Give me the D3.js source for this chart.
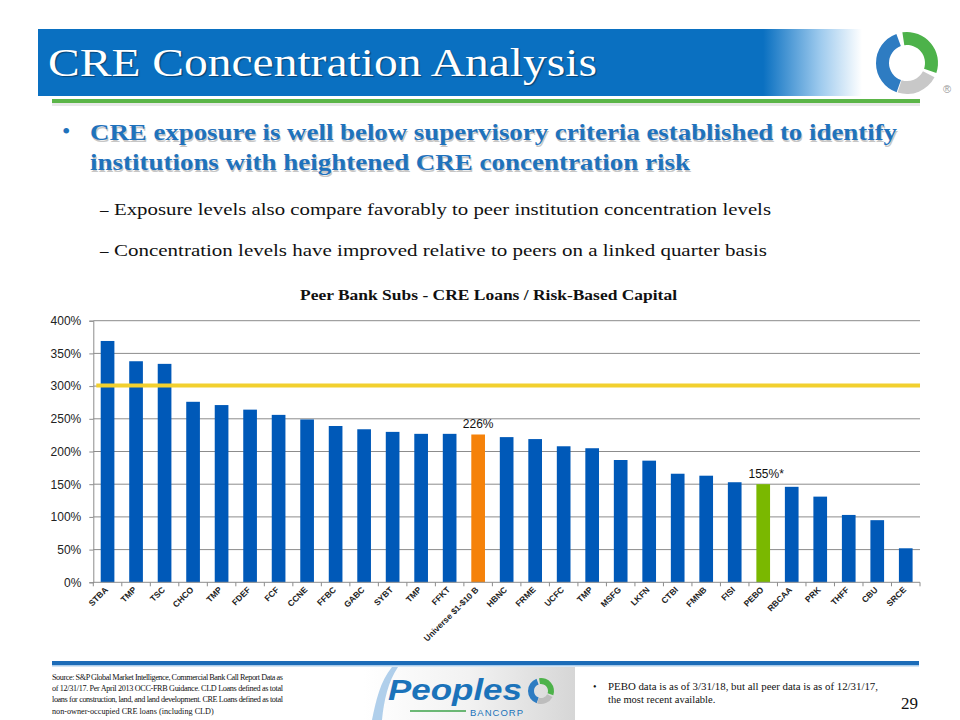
<!DOCTYPE html>
<html><head><meta charset="utf-8">
<script src="https://cdn.jsdelivr.net/npm/d3@7"></script>
<style>body{margin:0;background:#fff}svg{display:block}</style>
</head><body>
<script>
const categories = ["STBA","TMP","TSC","CHCO","TMP","FDEF","FCF","CCNE","FFBC","GABC","SYBT","TMP","FFKT","Universe $1-$10 B","HBNC","FRME","UCFC","TMP","MSFG","LKFN","CTBI","FMNB","FISI","PEBO","RBCAA","PRK","THFF","CBU","SRCE"];
const values = [369,338,334,276,271,264,256,249,239,234,230,227,227,226,222,219,208,205,187,186,166,163,153,150,146,131,103,95,52];
const barColors = {"Universe $1-$10 B":"#F5820A","PEBO":"#7AB800"};
const barLabels = [{cat:"Universe $1-$10 B", text:"226%"},{cat:"PEBO", text:"155%*"}];
const yTicks = [0,50,100,150,200,250,300,350,400];
const threshold = 301;

const W=960,H=720;
const svg=d3.select("body").append("svg").attr("width",W).attr("height",H);
const defs=svg.append("defs");
const g1=defs.append("linearGradient").attr("id","ban").attr("x1","0").attr("x2","1");
g1.append("stop").attr("offset","0").attr("stop-color","#0A70C1");
g1.append("stop").attr("offset","0.88").attr("stop-color","#0A70C1");
g1.append("stop").attr("offset","0.95").attr("stop-color","#9FCBEE");
g1.append("stop").attr("offset","1").attr("stop-color","#ffffff");
const g2=defs.append("linearGradient").attr("id","pbox").attr("x1","0").attr("x2","1");
g2.append("stop").attr("offset","0").attr("stop-color","#ffffff");
g2.append("stop").attr("offset","0.5").attr("stop-color","#f2f2f2");
g2.append("stop").attr("offset","1").attr("stop-color","#d6d6d6");

// header banner
svg.append("rect").attr("x",38).attr("y",29).attr("width",824).attr("height",67).attr("fill","url(#ban)");
svg.append("text").attr("x",48).attr("y",76).attr("fill","#fff")
  .attr("font-family","Liberation Serif, serif").attr("font-size",41)
  .attr("textLength",549).attr("lengthAdjust","spacingAndGlyphs")
  .style("text-shadow","1px 1px 1px rgba(0,0,0,0.4)")
  .text("CRE Concentration Analysis");
svg.append("rect").attr("x",52).attr("y",103).attr("width",868).attr("height",3).attr("fill","#d9d9d9").attr("opacity",0.6);
svg.append("rect").attr("x",52).attr("y",99).attr("width",868).attr("height",4).attr("fill","#5BB548");

// top logo
const lg=svg.append("g").attr("transform","translate(907,63)");
const arc=d3.arc();
lg.append("path").attr("d",arc({innerRadius:18,outerRadius:31,startAngle:-2.8,endAngle:-0.35})).attr("fill","#2E7CC2");
lg.append("path").attr("d",arc({innerRadius:18,outerRadius:31,startAngle:-0.15,endAngle:1.9})).attr("fill","#4DB24A");
lg.append("path").attr("d",arc({innerRadius:18,outerRadius:31,startAngle:2.05,endAngle:3.45})).attr("fill","#c8c8c8");
svg.append("text").attr("x",947).attr("y",93).attr("text-anchor","middle").attr("font-family","Liberation Sans, sans-serif").attr("font-size",11).attr("fill","#999").text("®");

// bullets
const serif="Liberation Serif, serif";
svg.append("text").attr("x",62).attr("y",139).attr("font-family",serif).attr("font-size",24).attr("fill","#1F72BC").text("•");
[[140,"CRE exposure is well below supervisory criteria established to identify",807],[170,"institutions with heightened CRE concentration risk",600]].forEach(([y,t,w])=>{
  svg.append("text").attr("x",91).attr("y",y+1.5).attr("font-family",serif).attr("font-size",23).attr("font-weight","bold")
    .attr("fill","#c6c6c6").attr("textLength",w).attr("lengthAdjust","spacingAndGlyphs").text(t);
  svg.append("text").attr("x",90).attr("y",y).attr("font-family",serif).attr("font-size",23).attr("font-weight","bold")
    .attr("fill","#1F72BC").attr("textLength",w).attr("lengthAdjust","spacingAndGlyphs").text(t);
});
[[215,"Exposure levels also compare favorably to peer institution concentration levels",657],[256,"Concentration levels have improved relative to peers on a linked quarter basis",653]].forEach(([y,t,w])=>{
  svg.append("text").attr("x",100).attr("y",y).attr("font-family",serif).attr("font-size",17).attr("fill","#111").text("–");
  svg.append("text").attr("x",114).attr("y",y).attr("font-family",serif).attr("font-size",17).attr("fill","#111")
    .attr("textLength",w).attr("lengthAdjust","spacingAndGlyphs").text(t);
});

// chart title
svg.append("text").attr("x",300).attr("y",300).attr("font-family",serif).attr("font-size",15.5).attr("font-weight","bold")
  .attr("fill","#111").attr("textLength",377).attr("lengthAdjust","spacingAndGlyphs")
  .text("Peer Bank Subs - CRE Loans / Risk-Based Capital");

// chart
const m={l:93.3,r:920,t:320.7,b:582.3};
const x=d3.scaleBand().domain(d3.range(categories.length)).range([m.l,m.r]).paddingInner(0.52).paddingOuter(0.26);
const y=d3.scaleLinear().domain([0,400]).range([m.b,m.t]);
const chart=svg.append("g");
chart.append("g").selectAll("line").data(yTicks.filter(d=>d>0)).join("line")
  .attr("x1",m.l).attr("x2",m.r).attr("y1",d=>y(d)).attr("y2",d=>y(d)).attr("stroke","#8c8c8c").attr("stroke-width",1);
const yAxis=chart.append("g").attr("transform",`translate(${m.l},0)`)
  .call(d3.axisLeft(y).tickValues(yTicks).tickFormat(d=>d+"%").tickSize(4).tickPadding(8));
yAxis.select(".domain").attr("stroke","#8c8c8c");
yAxis.selectAll(".tick line").attr("stroke","#8c8c8c");
yAxis.selectAll("text").attr("font-family","Liberation Sans, Arial, sans-serif").attr("font-size",12).attr("fill","#222");

chart.append("g").selectAll("rect").data(values).join("rect")
  .attr("x",(d,i)=>x(i)).attr("width",x.bandwidth())
  .attr("y",d=>y(d)).attr("height",d=>y(0)-y(d))
  .attr("fill",(d,i)=>barColors[categories[i]]||"#0059B8");

// threshold line
chart.append("line").attr("x1",m.l+3).attr("x2",m.r).attr("y1",y(threshold)).attr("y2",y(threshold))
  .attr("stroke","#F2D02E").attr("stroke-width",4);

// x axis
const step=x.step();
chart.append("line").attr("x1",m.l).attr("x2",m.r).attr("y1",m.b).attr("y2",m.b).attr("stroke","#8c8c8c");
chart.append("g").selectAll("line").data(d3.range(categories.length+1)).join("line")
  .attr("x1",i=>m.l+i*step).attr("x2",i=>m.l+i*step).attr("y1",m.b).attr("y2",m.b+4).attr("stroke","#8c8c8c");
chart.append("g").selectAll("text").data(categories).join("text")
  .attr("transform",(d,i)=>`translate(${x(i)+x.bandwidth()/2+1},${m.b+8}) rotate(-45)`)
  .attr("text-anchor","end").attr("font-family","Liberation Sans, Arial, sans-serif").attr("font-size",8.5)
  .attr("font-weight","bold").attr("fill","#222").text(d=>d);

// bar labels
barLabels.forEach(b=>{
  const i=categories.indexOf(b.cat);
  chart.append("text").attr("x",x(i)+x.bandwidth()/2+(b.text.endsWith("*")?3:0)).attr("y",y(values[i])-6)
    .attr("text-anchor","middle").attr("font-family","Liberation Sans, Arial, sans-serif").attr("font-size",12)
    .attr("fill","#111").text(b.text);
});

// footer
svg.append("rect").attr("x",52).attr("y",661).attr("width",867).attr("height",4).attr("fill","#1C6CB8");
svg.append("rect").attr("x",52).attr("y",665).attr("width",867).attr("height",1.5).attr("fill","#A9CBEA");
svg.append("rect").attr("x",363).attr("y",667).attr("width",212).attr("height",53).attr("fill","url(#pbox)");
svg.append("path").attr("d","M372,720 C376,700 380,682 392,667 L398,667 C388,682 384,700 382,720 Z").attr("fill","#9cc3e6").attr("opacity",0.8);
svg.append("text").attr("x",388).attr("y",700).attr("font-family","Liberation Sans, Arial, sans-serif").attr("font-size",30)
  .attr("font-weight","bold").attr("font-style","italic").attr("fill","#1B73BA")
  .attr("textLength",134).attr("lengthAdjust","spacingAndGlyphs").text("Peoples");
svg.append("line").attr("x1",410).attr("x2",466).attr("y1",711).attr("y2",711).attr("stroke","#3DA34A").attr("stroke-width",1.5);
svg.append("text").attr("x",470).attr("y",716).attr("font-family","Liberation Sans, Arial, sans-serif").attr("font-size",9.5)
  .attr("fill","#1B73BA").attr("letter-spacing",1).text("BANCORP");
const lg2=svg.append("g").attr("transform","translate(541,691)");
lg2.append("path").attr("d",arc({innerRadius:7,outerRadius:13,startAngle:-2.8,endAngle:-0.35})).attr("fill","#2E7CC2");
lg2.append("path").attr("d",arc({innerRadius:7,outerRadius:13,startAngle:-0.15,endAngle:1.9})).attr("fill","#4DB24A");
lg2.append("path").attr("d",arc({innerRadius:7,outerRadius:13,startAngle:2.05,endAngle:3.45})).attr("fill","#bdbdbd");

const src=[["Source: S&P Global Market Intelligence, Commercial Bank Call Report Data as",231],
  ["of 12/31/17.  Per April 2013 OCC-FRB Guidance.  CLD Loans defined as total",231],
  ["loans for construction, land, and land development.  CRE Loans defined as total",231],
  ["non-owner-occupied CRE loans (including CLD)",null]];
src.forEach(([t,w],k)=>{
  const e=svg.append("text").attr("x",52).attr("y",680+k*11.2).attr("font-family",serif).attr("font-size",8.2).attr("fill","#111").text(t);
  if(w) e.attr("textLength",w).attr("lengthAdjust","spacing");
});
svg.append("text").attr("x",593).attr("y",690).attr("font-family",serif).attr("font-size",10).attr("fill","#111").text("•");
svg.append("text").attr("x",608).attr("y",690).attr("font-family",serif).attr("font-size",10.5).attr("fill","#111")
  .attr("textLength",270).attr("lengthAdjust","spacingAndGlyphs").text("PEBO data is as of 3/31/18, but all peer data is as of 12/31/17,");
svg.append("text").attr("x",608).attr("y",703).attr("font-family",serif).attr("font-size",10.5).attr("fill","#111").text("the most recent available.");
svg.append("text").attr("x",918).attr("y",709).attr("text-anchor","end").attr("font-family",serif).attr("font-size",17).attr("fill","#111").text("29");
</script>
</body></html>
